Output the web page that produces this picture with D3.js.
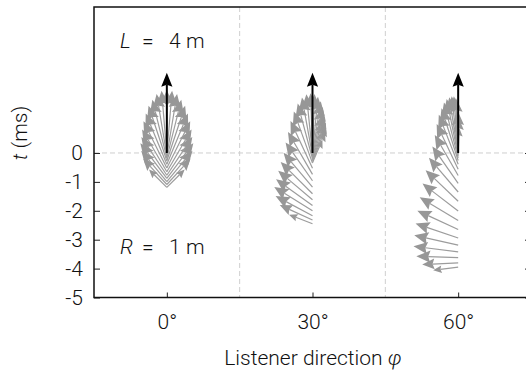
<!DOCTYPE html>
<html>
<head>
<meta charset="utf-8">
<script src="https://cdn.jsdelivr.net/npm/d3@7"></script>
<style>
  body { margin: 0; background: #fff; }
  text { font-family: Roboto, "Liberation Sans", Arial, sans-serif; font-weight: 300; fill: #111; }
</style>
</head>
<body>
<script>
// listener directions (deg) and axis ticks
var phiDirs = [0, 30, 60];
var tickT = [0, -1, -2, -3, -4, -5];
var tickPhi = [0, 30, 60];
var gridPhi = [15, 45, 75];

// arrivals per listener direction: time (ms), direction (deg, rel. to source), amplitude
var t0 = [-1.19, -1.09, -0.99, -0.88, -0.77, -0.65, -0.52, -0.39, -0.27, -0.17, -0.08, -0.02, 0,
	-0.02, -0.08, -0.17, -0.27, -0.39, -0.52, -0.65, -0.77, -0.88, -0.99, -1.09, -1.19];
var ang0 = [45, 42.5, 39.8, 36.9, 33.7, 30.3, 26.6, 22.6, 18.4, 14, 9.5, 4.8, 0,
	-4.8, -9.5, -14, -18.4, -22.6, -26.6, -30.3, -33.7, -36.9, -39.8, -42.5, -45];
var amp0 = [0.56, 0.78, 0.89, 0.98, 1.02, 1.09, 1.16, 1.22, 1.29, 1.33, 1.38, 1.4, 1.4,
	1.4, 1.38, 1.33, 1.29, 1.22, 1.16, 1.09, 1.02, 0.98, 0.89, 0.78, 0.56];

var t30 = [-0.34, -0.29, -0.25, -0.2, -0.15, -0.1, -0.06, -0.02, 0, 0, -0.03, -0.09, -0.2,
	-0.35, -0.53, -0.74, -0.96, -1.18, -1.41, -1.62, -1.82, -2, -2.17, -2.32, -2.45];
var ang30 = [23.3, 21.4, 19.3, 17, 14.5, 11.8, 8.8, 5.5, 2, -1.8, -5.9, -10.3, -15,
	-19.9, -24.9, -30, -35.1, -40.1, -45, -49.7, -54.1, -58.2, -62, -65.5, -68.8];
var amp30 = [0.56, 0.76, 0.89, 0.93, 1, 1.11, 1.2, 1.27, 1.31, 1.33, 1.33, 1.31, 1.27,
	1.22, 1.16, 1.09, 1.04, 1, 1, 1, 1, 1, 0.93, 0.8, 0.56];

var t60 = [0, 0, 0, 0, -0.01, -0.03, -0.06, -0.1, -0.17, -0.26, -0.39, -0.56, -0.78,
	-1.05, -1.35, -1.67, -2.01, -2.34, -2.65, -2.94, -3.19, -3.42, -3.62, -3.8, -3.95];
var ang60 = [2.4, 0.9, -0.6, -2.4, -4.3, -6.4, -8.8, -11.4, -14.4, -17.7, -21.4, -25.5, -30,
	-35, -40.5, -46.3, -52.4, -58.8, -65.1, -71.3, -77.3, -82.9, -88.1, -92.8, -97.1];
var amp60 = [0.56, 0.78, 0.93, 1.22, 1.27, 1.29, 1.29, 1.29, 1.27, 1.22, 1.18, 1.11, 1.04,
	1, 1, 1, 1, 1, 1, 1, 1, 1, 0.93, 0.8, 0.56];

// focused source arrow (t, direction, amplitude)
var srcT = 0, srcAng = 0, srcAmp = 1.78;

var width = 526, height = 373;

var svg = d3.select('body').append('svg')
	.attr('width', width)
	.attr('height', height);

svg.append('rect').attr('width', width).attr('height', height).attr('fill', '#fff');

var x = d3.scaleLinear().domain([-15, 75]).range([94, 531]);
var y = d3.scaleLinear().domain([-5, 5.05]).range([297.5, 7]);
var len = d3.scaleLinear().domain([0, 1]).range([0, 45]);

// dashed grid
svg.append('g').selectAll('line')
	.data(gridPhi)
	.enter().append('line')
	.attr('x1', function(d) { return x(d); })
	.attr('x2', function(d) { return x(d); })
	.attr('y1', y.range()[1])
	.attr('y2', y.range()[0])
	.attr('stroke', '#cfcfcf')
	.attr('stroke-dasharray', '5,3');

svg.append('line')
	.attr('x1', x.range()[0]).attr('x2', x.range()[1])
	.attr('y1', y(0)).attr('y2', y(0))
	.attr('stroke', '#cfcfcf')
	.attr('stroke-dasharray', '5,3');

// build arrows
var sets = [[t0, ang0, amp0], [t30, ang30, amp30], [t60, ang60, amp60]];
var arrows = [];
sets.forEach(function(s, i) {
	s[0].forEach(function(t, j) {
		arrows.push({ phi: phiDirs[i], t: t, ang: s[1][j], amp: s[2][j] });
	});
});

function geom(d, hlMax, ratio) {
	var L = len(d.amp), a = d.ang * Math.PI / 180;
	var ux = Math.sin(a), uy = -Math.cos(a);
	var x0 = x(d.phi), y0 = y(d.t);
	var x1 = x0 + ux * L, y1 = y0 + uy * L;
	var hl = Math.min(hlMax, L * 0.34), hw = hl * ratio;
	var bx = x1 - ux * hl, by = y1 - uy * hl;
	var nx = x1 - ux * hl * 0.85, ny = y1 - uy * hl * 0.85;
	return {
		x0: x0, y0: y0, sx: nx, sy: ny,
		head: 'M' + x1 + ',' + y1 +
			'L' + (bx - uy * hw) + ',' + (by + ux * hw) +
			'L' + nx + ',' + ny +
			'L' + (bx + uy * hw) + ',' + (by - ux * hw) + 'Z'
	};
}

var ag = svg.append('g');
arrows.forEach(function(d) {
	var g = geom(d, 14, 0.44);
	ag.append('line')
		.attr('x1', g.x0).attr('y1', g.y0)
		.attr('x2', g.sx).attr('y2', g.sy)
		.attr('stroke', '#9c9c9c')
		.attr('stroke-width', 1.2);
	ag.append('path')
		.attr('d', g.head)
		.attr('fill', '#979797');
});

// focused source arrows
phiDirs.forEach(function(p) {
	var g = geom({ phi: p, t: srcT, ang: srcAng, amp: srcAmp }, 14, 0.4);
	ag.append('line')
		.attr('x1', g.x0).attr('y1', g.y0)
		.attr('x2', g.sx).attr('y2', g.sy)
		.attr('stroke', '#000')
		.attr('stroke-width', 2);
	ag.append('path').attr('d', g.head).attr('fill', '#000');
});

// axes (ticks inward)
var yAxis = d3.axisLeft(y).tickValues(tickT).tickSize(-6).tickPadding(11)
	.tickFormat(function(d) { return d < 0 ? '-' + Math.abs(d) : d; });
var yAxisR = d3.axisRight(y).tickValues(tickT).tickSize(-6).tickFormat('');
var xAxis = d3.axisBottom(x).tickValues(tickPhi).tickSize(-5).tickPadding(17)
	.tickFormat(function(d) { return d + '°'; });

var ya = svg.append('g').attr('transform', 'translate(' + x.range()[0] + ',0)').call(yAxis);
var yr = svg.append('g').attr('transform', 'translate(' + x.range()[1] + ',0)').call(yAxisR);
var xa = svg.append('g').attr('transform', 'translate(0,' + y.range()[0] + ')').call(xAxis);
[ya, yr, xa].forEach(function(a) {
	a.select('.domain').remove();
	a.selectAll('line').attr('stroke', '#222');
	a.selectAll('text').attr('font-size', 21)
		.attr('font-family', 'Roboto, "Liberation Sans", Arial, sans-serif')
		.attr('font-weight', 300)
		.attr('fill', '#111');
});

// frame
svg.append('rect')
	.attr('x', x.range()[0]).attr('y', y.range()[1])
	.attr('width', x.range()[1] - x.range()[0])
	.attr('height', y.range()[0] - y.range()[1])
	.attr('fill', 'none')
	.attr('stroke', '#111')
	.attr('stroke-width', 1.5);

// annotations
function mathLabel(yb, sym, num) {
	var tx = svg.append('text').attr('y', yb).attr('font-size', 21);
	tx.append('tspan').attr('x', 120).attr('font-style', 'italic').text(sym);
	tx.append('tspan').attr('x', 142).text('=');
	tx.append('tspan').attr('x', 169).text(num);
	tx.append('tspan').attr('x', 186).text('m');
}
mathLabel(47.5, 'L', '4');
mathLabel(253.5, 'R', '1');

var yl = svg.append('text')
	.attr('transform', 'translate(27,133) rotate(-90)')
	.attr('text-anchor', 'middle')
	.attr('font-size', 21);
yl.append('tspan').attr('font-style', 'italic').text('t');
yl.append('tspan').text(' (ms)');

var xl = svg.append('text')
	.attr('x', 313).attr('y', 365)
	.attr('text-anchor', 'middle')
	.attr('font-size', 21);
xl.append('tspan').text('Listener direction ');
xl.append('tspan').attr('font-style', 'italic').text('φ');
</script>
</body>
</html>
